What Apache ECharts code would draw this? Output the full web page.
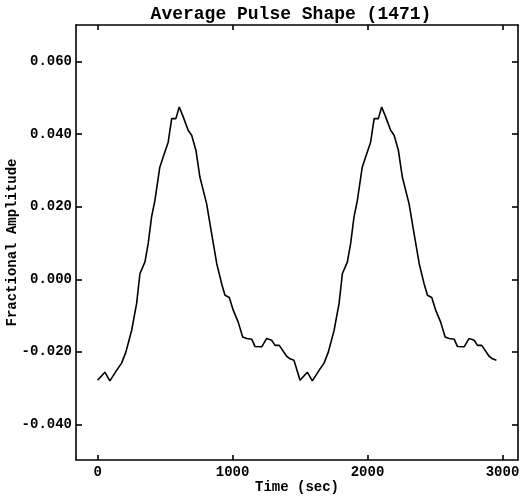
<!DOCTYPE html>
<html>
<head>
    <meta charset="utf-8">
    <title>Average Pulse Shape</title>
    <script src="https://cdn.jsdelivr.net/npm/echarts@6/dist/echarts.min.js"></script>
    <style>
        html, body { margin: 0; padding: 0; background: #fff; }
    </style>
</head>
<body>
    <div id="main" style="width: 524px;height:497px;"></div>
    <script type="text/javascript">
        // one pulse cycle (time in sec, fractional amplitude), plotted twice
        var profileTime = [0, 54, 91, 141, 178, 210, 252, 289, 314, 351, 375, 400, 425, 461, 486, 523, 549, 580, 605, 635,
            672, 697, 729, 758, 808, 845, 883, 919, 944, 976, 1005, 1042, 1075, 1105, 1142, 1166, 1216, 1253, 1290, 1315,
            1346, 1401, 1426, 1455];
        var profileAmp = [-0.0278, -0.0256, -0.0280, -0.0251, -0.0231, -0.0200, -0.0141, -0.0067, 0.0016, 0.0048,
            0.0099, 0.0172, 0.0218, 0.0309, 0.0337, 0.0378, 0.0443, 0.0443, 0.0475, 0.0447,
            0.0410, 0.0397, 0.0355, 0.0282, 0.0208, 0.0126, 0.0043, -0.0012, -0.0044, -0.0050,
            -0.0085, -0.0118, -0.0159, -0.0163, -0.0165, -0.0185, -0.0186, -0.0163, -0.0168, -0.0182,
            -0.0182, -0.0212, -0.0219, -0.0223];
        var period = 1500;
        var cycles = 2;
        var xTicks = [0, 1000, 2000, 3000];
        var yTicks = [-0.04, -0.02, 0, 0.02, 0.04, 0.06];

        var seriesData = [];
        for (var c = 0; c < cycles; c++) {
            for (var i = 0; i < profileTime.length; i++) {
                seriesData.push([profileTime[i] + c * period, profileAmp[i]]);
            }
        }

        var font = '"Liberation Mono", "DejaVu Sans Mono", monospace';
        var lineStyle = { color: '#000', width: 1.6 };

        function xAxisOpt(pos, labels) {
            return {
                type: 'value',
                position: pos,
                min: -160,
                max: 3115,
                splitLine: { show: false },
                axisLine: { show: true, onZero: false, lineStyle: lineStyle },
                axisTick: { show: true, inside: true, length: 5, customValues: xTicks, lineStyle: lineStyle },
                axisLabel: {
                    show: labels, customValues: xTicks, margin: 5,
                    color: '#000', fontFamily: font, fontWeight: 'bold', fontSize: 14,
                    formatter: function (v) { return String(v); }
                },
                name: labels ? 'Time (sec)' : '',
                nameLocation: 'middle',
                nameGap: 20,
                nameMoveOverlap: false,
                nameTextStyle: { color: '#000', fontFamily: font, fontWeight: 'bold', fontSize: 14 }
            };
        }

        function yAxisOpt(pos, labels) {
            return {
                type: 'value',
                position: pos,
                min: -0.0498,
                max: 0.0701,
                splitLine: { show: false },
                axisLine: { show: true, onZero: false, lineStyle: lineStyle },
                axisTick: { show: true, inside: true, length: 6, customValues: yTicks, lineStyle: lineStyle },
                axisLabel: {
                    show: labels, customValues: yTicks, margin: 4,
                    color: '#000', fontFamily: font, fontWeight: 'bold', fontSize: 14,
                    formatter: function (v) { return v.toFixed(3); }
                },
                name: labels ? 'Fractional Amplitude' : '',
                nameLocation: 'middle',
                nameGap: 57,
                nameMoveOverlap: false,
                nameTextStyle: { color: '#000', fontFamily: font, fontWeight: 'bold', fontSize: 14 }
            };
        }

        var myChart = echarts.init(document.getElementById('main'));
        var option = {
            backgroundColor: '#fff',
            animation: false,
            title: {
                text: 'Average Pulse Shape (1471)',
                left: 286,
                textAlign: 'center',
                top: 0,
                textStyle: { color: '#000', fontFamily: font, fontWeight: 'bold', fontSize: 18 }
            },
            grid: { left: 76, right: 6, top: 25, bottom: 37, outerBoundsMode: 'none' },
            xAxis: [xAxisOpt('bottom', true), xAxisOpt('top', false)],
            yAxis: [yAxisOpt('left', true), yAxisOpt('right', false)],
            series: [{
                type: 'line',
                data: seriesData,
                showSymbol: false,
                lineStyle: { color: '#000', width: 1.6 }
            }]
        };
        myChart.setOption(option);
    </script>
</body>
</html>
